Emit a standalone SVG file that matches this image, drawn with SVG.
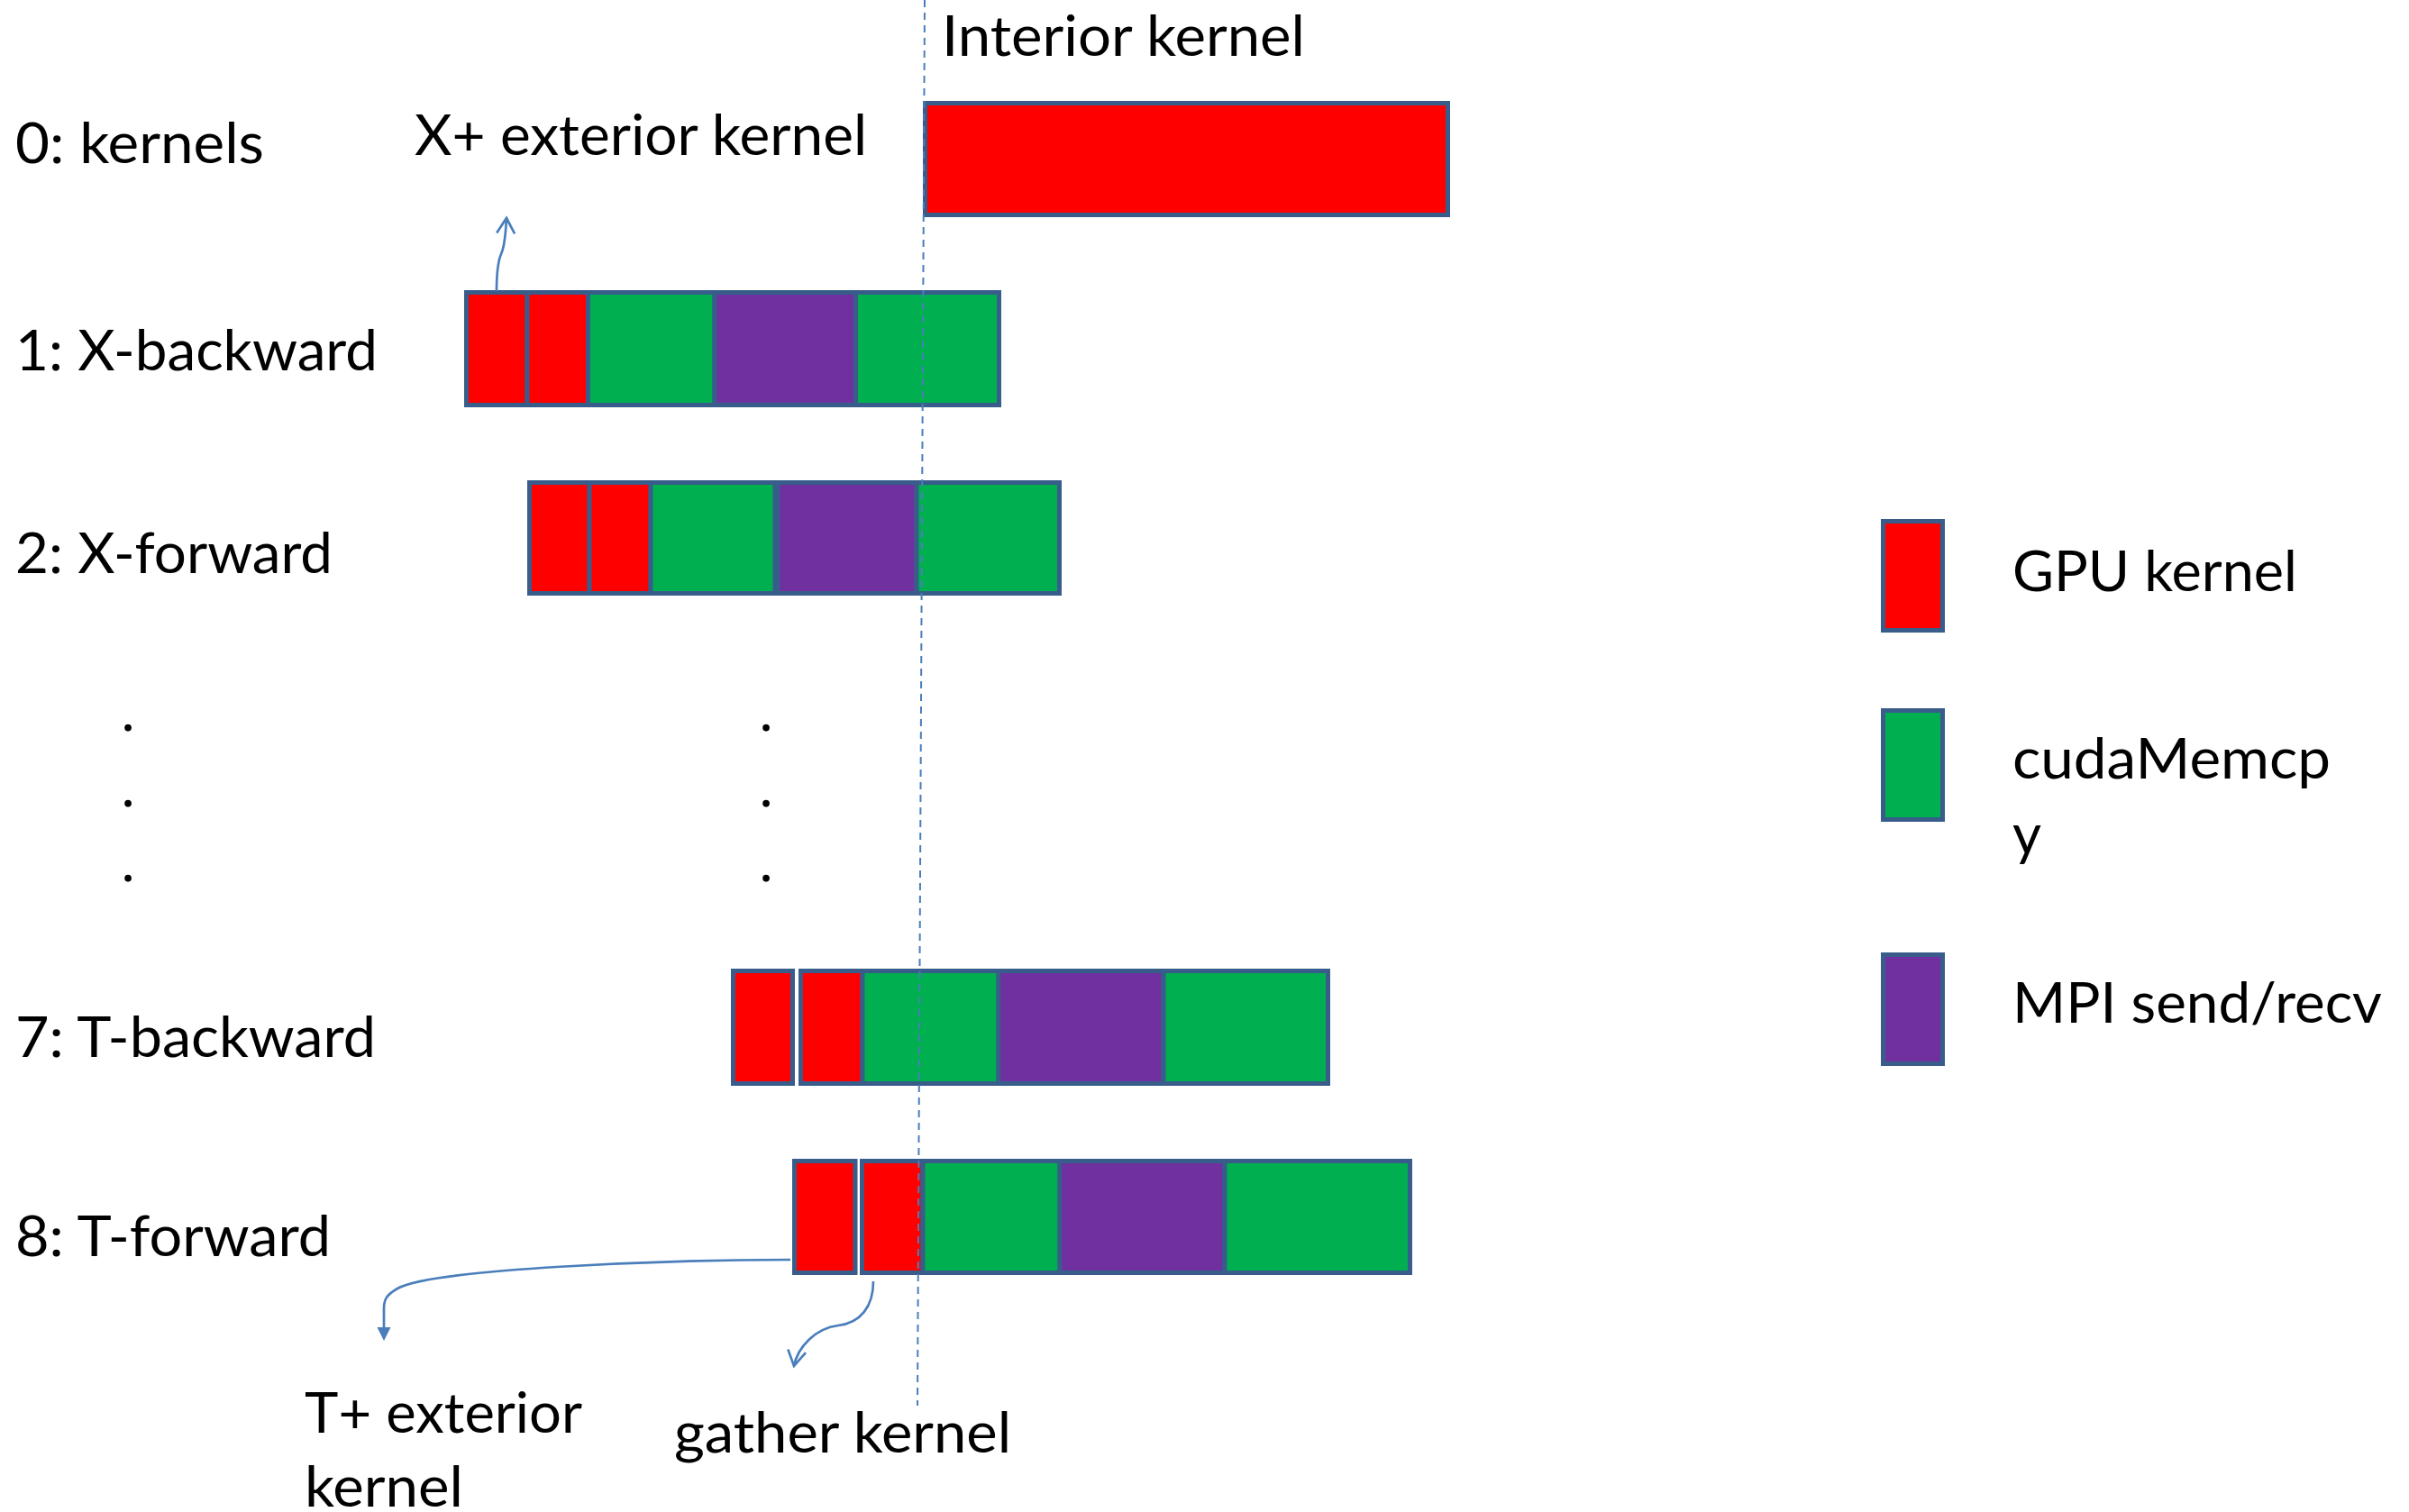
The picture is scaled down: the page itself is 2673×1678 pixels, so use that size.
<svg xmlns="http://www.w3.org/2000/svg" width="2673" height="1678" viewBox="0 0 2673 1678">
  <style>
    text { font-family: Lato, "Open Sans", "Liberation Sans", sans-serif; font-size: 62px; fill: #000; }
    .seg { stroke: #385D8A; stroke-width: 5; }
    .gpu { fill: #FF0000; }
    .copy { fill: #00B050; }
    .mpi { fill: #7030A0; }
    .conn { fill: none; stroke: #4A7EBB; stroke-width: 2.7; }
    .guide { fill: none; stroke: #4A7EBB; stroke-width: 2; stroke-dasharray: 8 6; }
  </style>
  <defs>
    <marker id="openHead" markerUnits="userSpaceOnUse" markerWidth="40" markerHeight="40" refX="0" refY="0" orient="auto" overflow="visible">
      <path d="M-17,-10 L0,0 L-17,10" fill="none" stroke="#4A7EBB" stroke-width="2.7" stroke-linejoin="miter"/>
    </marker>
    <marker id="solidHead" markerUnits="userSpaceOnUse" markerWidth="40" markerHeight="40" refX="-15" refY="0" orient="auto" overflow="visible">
      <path d="M-15,-7.5 L0,0 L-15,7.5 Z" fill="#4A7EBB"/>
    </marker>
  </defs>

  <rect x="0" y="0" width="2673" height="1678" fill="#FFFFFF"/>

  <!-- row labels -->
  <g id="labels">
    <text x="17" y="181" textLength="276" lengthAdjust="spacingAndGlyphs">0: kernels</text>
    <text x="17" y="411" textLength="402" lengthAdjust="spacingAndGlyphs">1: X-backward</text>
    <text x="17" y="636" textLength="352" lengthAdjust="spacingAndGlyphs">2: X-forward</text>
    <text x="17" y="1173" textLength="400" lengthAdjust="spacingAndGlyphs">7: T-backward</text>
    <text x="17" y="1394" textLength="350" lengthAdjust="spacingAndGlyphs">8: T-forward</text>
  </g>

  <!-- ellipsis between rows 2 and 7 -->
  <g id="ellipsis" text-anchor="middle">
    <text x="142" y="811">.</text>
    <text x="142" y="895">.</text>
    <text x="142" y="978">.</text>
    <text x="850" y="811">.</text>
    <text x="850" y="895">.</text>
    <text x="850" y="978">.</text>
  </g>

  <!-- row 0: interior kernel -->
  <g id="row0">
    <rect class="seg gpu" x="1026.5" y="114.5" width="580" height="124"/>
  </g>

  <!-- row 1: X-backward -->
  <g id="row1">
    <rect class="seg gpu" x="517.5" y="324.5" width="67.5" height="125"/>
    <rect class="seg gpu" x="585" y="324.5" width="67.5" height="125"/>
    <rect class="seg copy" x="652.5" y="324.5" width="140.5" height="125"/>
    <rect class="seg mpi" x="793" y="324.5" width="156.5" height="125"/>
    <rect class="seg copy" x="949.5" y="324.5" width="159" height="125"/>
  </g>

  <!-- row 2: X-forward -->
  <g id="row2">
    <rect class="seg gpu" x="587.5" y="535.5" width="66.5" height="123"/>
    <rect class="seg gpu" x="654" y="535.5" width="68" height="123"/>
    <rect class="seg copy" x="722" y="535.5" width="138" height="123"/>
    <rect class="seg mpi" x="863" y="535.5" width="154" height="123"/>
    <rect class="seg copy" x="1017" y="535.5" width="158.5" height="123"/>
  </g>

  <!-- row 7: T-backward -->
  <g id="row7">
    <rect class="seg gpu" x="813.5" y="1077.5" width="66" height="125"/>
    <rect class="seg gpu" x="888.5" y="1077.5" width="68.5" height="125"/>
    <rect class="seg copy" x="957" y="1077.5" width="151" height="125"/>
    <rect class="seg mpi" x="1108" y="1077.5" width="183" height="125"/>
    <rect class="seg copy" x="1291" y="1077.5" width="182.5" height="125"/>
  </g>

  <!-- row 8: T-forward -->
  <g id="row8">
    <rect class="seg gpu" x="881.5" y="1288.5" width="67.5" height="124"/>
    <rect class="seg gpu" x="956.5" y="1288.5" width="67.5" height="124"/>
    <rect class="seg copy" x="1024" y="1288.5" width="152" height="124"/>
    <rect class="seg mpi" x="1176" y="1288.5" width="183" height="124"/>
    <rect class="seg copy" x="1359" y="1288.5" width="205.5" height="124"/>
  </g>

  <!-- boundary of the interior kernel -->
  <g id="interior-guide">
    <line class="guide" x1="1026" y1="0" x2="1018" y2="1560"/>
  </g>

  <!-- callout labels -->
  <g id="callouts">
    <text x="1045" y="62" textLength="403" lengthAdjust="spacingAndGlyphs">Interior kernel</text>
    <text x="460" y="172" textLength="502" lengthAdjust="spacingAndGlyphs">X+ exterior kernel</text>
    <text x="338" y="1590" textLength="308" lengthAdjust="spacingAndGlyphs">T+ exterior</text>
    <text x="338" y="1672" textLength="176" lengthAdjust="spacingAndGlyphs">kernel</text>
    <text x="748" y="1612" textLength="374" lengthAdjust="spacingAndGlyphs">gather kernel</text>
  </g>

  <!-- connectors -->
  <g id="connectors">
    <path class="conn" d="M551,323 C551,300 553,289 556,282 C559,276 561,262 562,242" marker-end="url(#openHead)"/>
    <path class="conn" d="M877,1398 C740,1398 480,1408 441,1430 C429,1437 426,1442 426,1452 L426,1473" marker-end="url(#solidHead)"/>
    <path class="conn" d="M969,1422 C969,1450 955,1468 930,1471 C905,1474 885,1495 881,1516" marker-end="url(#openHead)"/>
  </g>

  <!-- legend -->
  <g id="legend-gpu">
    <rect class="seg gpu" x="2089.5" y="578.5" width="66" height="121"/>
    <text x="2233" y="656" textLength="316" lengthAdjust="spacingAndGlyphs">GPU kernel</text>
  </g>
  <g id="legend-copy">
    <rect class="seg copy" x="2089.5" y="788.5" width="66" height="121"/>
    <text x="2233" y="864" textLength="353" lengthAdjust="spacingAndGlyphs">cudaMemcp</text>
    <text x="2233" y="948">y</text>
  </g>
  <g id="legend-mpi">
    <rect class="seg mpi" x="2089.5" y="1059.5" width="66" height="121"/>
    <text x="2233" y="1135" textLength="410" lengthAdjust="spacingAndGlyphs">MPI send/recv</text>
  </g>
</svg>
